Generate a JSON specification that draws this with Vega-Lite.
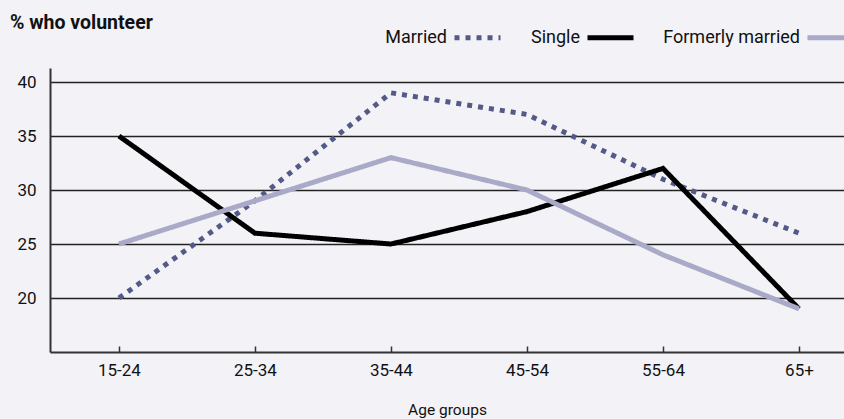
{
  "$schema": "https://vega.github.io/schema/vega-lite/v6.json",
  "width": 794,
  "height": 284,
  "autosize": "none",
  "padding": {"left": 50, "top": 68, "right": 0, "bottom": 67},
  "background": "#f3f2f7",
  "config": {
    "view": {"stroke": null},
    "font": "Roboto, sans-serif"
  },
  "title": {
    "text": "% who volunteer",
    "anchor": "start",
    "dx": -7,
    "offset": -21,
    "fontSize": 19.5,
    "fontWeight": "bold",
    "color": "#111111",
    "font": "Roboto, sans-serif"
  },
  "data": {
    "values": [
      {"age": "15-24", "status": "Married", "pct": 20},
      {"age": "25-34", "status": "Married", "pct": 29},
      {"age": "35-44", "status": "Married", "pct": 39},
      {"age": "45-54", "status": "Married", "pct": 37},
      {"age": "55-64", "status": "Married", "pct": 31},
      {"age": "65+", "status": "Married", "pct": 26},
      {"age": "15-24", "status": "Single", "pct": 35},
      {"age": "25-34", "status": "Single", "pct": 26},
      {"age": "35-44", "status": "Single", "pct": 25},
      {"age": "45-54", "status": "Single", "pct": 28},
      {"age": "55-64", "status": "Single", "pct": 32},
      {"age": "65+", "status": "Single", "pct": 19},
      {"age": "15-24", "status": "Formerly married", "pct": 25},
      {"age": "25-34", "status": "Formerly married", "pct": 29},
      {"age": "35-44", "status": "Formerly married", "pct": 33},
      {"age": "45-54", "status": "Formerly married", "pct": 30},
      {"age": "55-64", "status": "Formerly married", "pct": 24},
      {"age": "65+", "status": "Formerly married", "pct": 19}
    ]
  },
  "mark": {"type": "line", "strokeWidth": 5, "strokeCap": "butt", "strokeJoin": "miter"},
  "encoding": {
    "x": {
      "field": "age",
      "type": "ordinal",
      "sort": ["15-24", "25-34", "35-44", "45-54", "55-64", "65+"],
      "scale": {"type": "point", "padding": 0.419, "align": 0.605},
      "axis": {
        "title": "Age groups",
        "titleFontSize": 15.5,
        "titleFontWeight": "normal",
        "titleColor": "#111111",
        "titlePadding": 24,
        "labelAngle": 0,
        "labelFontSize": 17,
        "labelColor": "#111111",
        "labelPadding": 16,
        "domainColor": "#333333",
        "domainWidth": 2,
        "tickColor": "#333333",
        "tickWidth": 1.5,
        "tickSize": -6,
        "grid": false
      }
    },
    "y": {
      "field": "pct",
      "type": "quantitative",
      "scale": {"domain": [15, 41.3], "nice": false, "zero": false},
      "axis": {
        "title": null,
        "values": [20, 25, 30, 35, 40],
        "ticks": false,
        "labelPadding": 14,
        "labelFontSize": 17,
        "labelColor": "#111111",
        "domainColor": "#333333",
        "domainWidth": 2,
        "grid": true,
        "gridColor": "#222222",
        "gridWidth": 1.5,
        "gridOpacity": 1
      }
    },
    "color": {
      "field": "status",
      "type": "nominal",
      "scale": {
        "domain": ["Married", "Single", "Formerly married"],
        "range": ["#545a87", "#000000", "#a9a9c8"]
      },
      "legend": {
        "title": null,
        "orient": "none",
        "direction": "horizontal",
        "legendX": 402,
        "legendY": -56,
        "symbolType": "stroke",
        "symbolSize": 2116,
        "symbolStrokeWidth": 5,
        "labelAlign": "right",
        "labelOffset": -56,
        "labelFontSize": 18,
        "labelColor": "#111111",
        "columnPadding": 19
      }
    },
    "strokeDash": {
      "field": "status",
      "type": "nominal",
      "scale": {
        "domain": ["Married", "Single", "Formerly married"],
        "range": [[5, 6], [1, 0], [1, 0]]
      }
    }
  }
}
